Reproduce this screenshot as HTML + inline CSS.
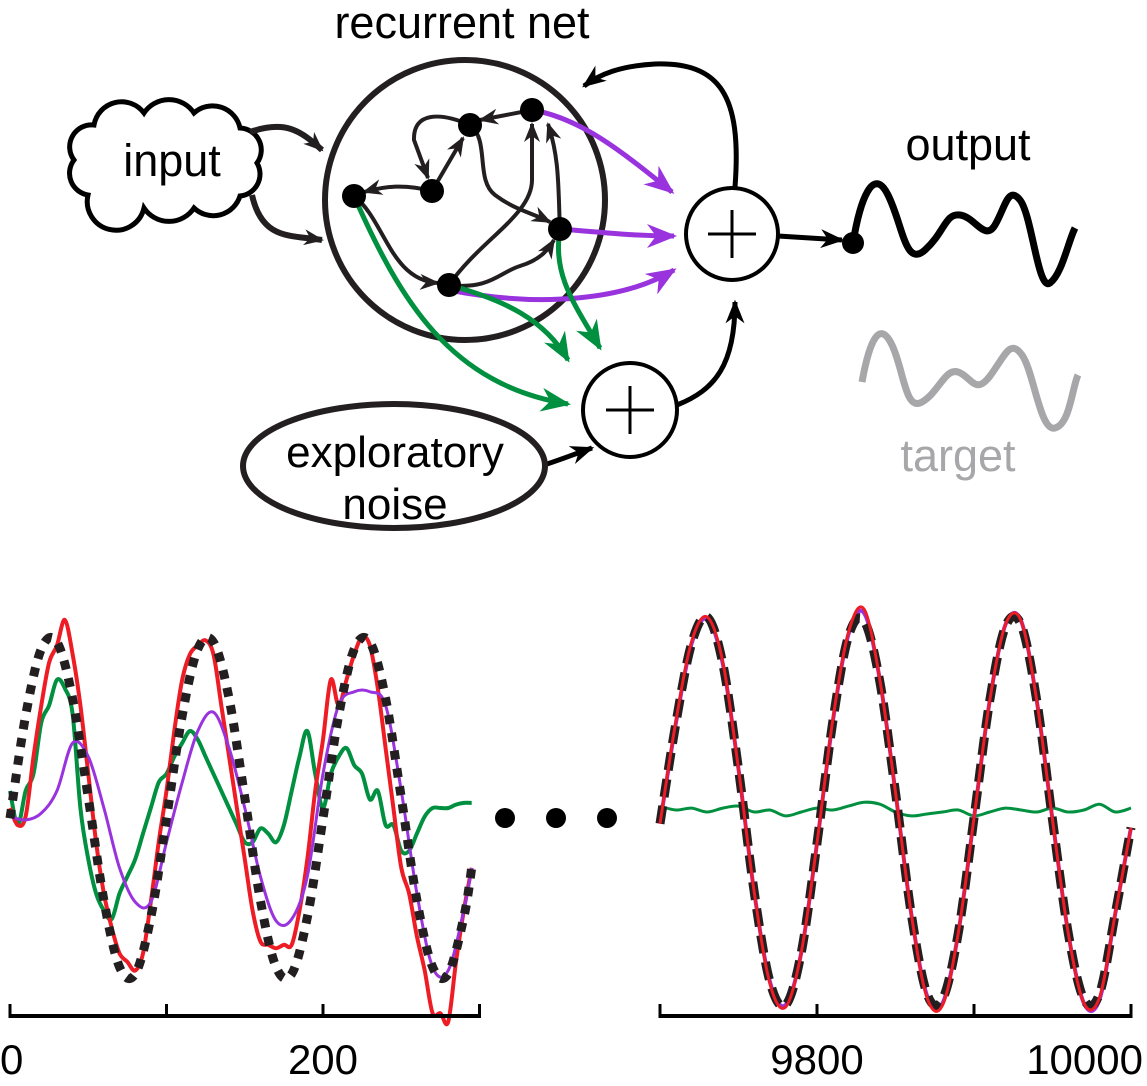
<!DOCTYPE html>
<html><head><meta charset="utf-8"><style>
html,body{margin:0;padding:0;background:#fff;}
svg{display:block;font-family:"Liberation Sans",Helvetica,Arial,sans-serif;}
</style></head><body>
<svg id="fig" width="1147" height="1086" viewBox="0 0 1147 1086" xmlns="http://www.w3.org/2000/svg">
<defs>
<marker id="ab" viewBox="0 0 20 16" refX="18" refY="8" markerWidth="20" markerHeight="16" markerUnits="userSpaceOnUse" orient="auto"><path d="M0,0 L20,8 L0,16 L6,8 z" fill="#231f20"/></marker>
<marker id="abb" viewBox="0 0 20 16" refX="18" refY="8" markerWidth="24" markerHeight="19" markerUnits="userSpaceOnUse" orient="auto"><path d="M0,0 L20,8 L0,16 L6,8 z" fill="#000"/></marker>
<marker id="ap" viewBox="0 0 20 16" refX="18" refY="8" markerWidth="30" markerHeight="24" markerUnits="userSpaceOnUse" orient="auto"><path d="M0,0 L20,8 L0,16 L6,8 z" fill="#9933dd"/></marker>
<marker id="ag" viewBox="0 0 20 16" refX="18" refY="8" markerWidth="30" markerHeight="24" markerUnits="userSpaceOnUse" orient="auto"><path d="M0,0 L20,8 L0,16 L6,8 z" fill="#009040"/></marker>
</defs>

<g>
<text x="462" y="38" font-size="45" text-anchor="middle">recurrent net</text>
<circle cx="465" cy="200" r="140" fill="none" stroke="#231f20" stroke-width="6"/>

<path d="M88,195 a22,22 0 0 1 -14,-35 a22,22 0 0 1 20,-35 a28,28 0 0 1 50,-12 a30,30 0 0 1 50,0 a28,28 0 0 1 46,15 a22,22 0 0 1 17,35 a22,22 0 0 1 -17,33 a28,28 0 0 1 -46,12 a30,30 0 0 1 -50,0 a28,28 0 0 1 -56,-13 z" fill="#fff" stroke="#000" stroke-width="5"/>
<text x="172" y="176" font-size="45" text-anchor="middle">input</text>

<g fill="none" stroke="#231f20" stroke-width="6">
<path d="M250,132 C285,120 300,130 322,150" marker-end="url(#ab)"/>
<path d="M252,195 C262,240 290,235 322,240" marker-end="url(#ab)"/>
</g>

<g fill="none" stroke="#231f20" stroke-width="4">
<path d="M532,110 L480,120" marker-end="url(#ab)"/>
<path d="M470,125 C440,112 413,112 414,140 L428,178" marker-end="url(#ab)"/>
<path d="M432,191 L463,138" marker-end="url(#ab)"/>
<path d="M432,191 C405,184 385,186 364,192" marker-end="url(#ab)"/>
<path d="M354,196 C385,220 390,280 438,283" marker-end="url(#ab)"/>
<path d="M449,285 C490,290 500,272 520,266 S548,250 554,240" marker-end="url(#ab)"/>
<path d="M449,285 C480,240 532,215 532,180 L532,124" marker-end="url(#ab)"/>
<path d="M470,125 C490,140 475,180 495,195 S530,212 550,222" marker-end="url(#ab)"/>
<path d="M560,229 C558,190 560,160 548,124" marker-end="url(#ab)"/>
</g>

<g fill="none" stroke="#9933dd" stroke-width="5">
<path d="M532,110 C580,118 620,150 672,192" marker-end="url(#ap)"/>
<path d="M560,229 C600,232 630,236 674,236" marker-end="url(#ap)"/>
<path d="M449,290 C540,308 625,300 674,270" marker-end="url(#ap)"/>
</g>
<g fill="none" stroke="#009040" stroke-width="5">
<path d="M354,196 C400,300 450,385 568,404" marker-end="url(#ag)"/>
<path d="M449,285 C505,300 545,320 568,360" marker-end="url(#ag)"/>
<path d="M560,229 C552,275 575,305 600,348" marker-end="url(#ag)"/>
</g>

<g fill="#000">
<circle cx="354" cy="196" r="12"/><circle cx="432" cy="191" r="12"/><circle cx="470" cy="125" r="12"/>
<circle cx="532" cy="110" r="12"/><circle cx="560" cy="229" r="12"/><circle cx="449" cy="285" r="12"/>
</g>

<g fill="none" stroke="#000" stroke-width="5">
<path d="M735,187 C742,95 720,62 655,64 C620,66 600,74 584,86" marker-end="url(#abb)"/>
<path d="M778,236 L842,240" marker-end="url(#abb)"/>
<path d="M677,405 C715,390 735,365 735,302" marker-end="url(#abb)"/>
<path d="M538,467 C560,460 572,455 592,448" marker-end="url(#abb)"/>
</g>

<g>
<circle cx="732" cy="234" r="46" fill="#fff" stroke="#000" stroke-width="4"/>
<path d="M708,234 H756 M732,210 V258" stroke="#000" stroke-width="3"/>
</g>
<g>
<circle cx="630" cy="410" r="47" fill="#fff" stroke="#000" stroke-width="4"/>
<path d="M606,410 H654 M630,386 V434" stroke="#000" stroke-width="3"/>
</g>

<ellipse cx="394" cy="466" rx="151" ry="62" fill="#fff" stroke="#231f20" stroke-width="6"/>
<text x="395" y="467" font-size="44" text-anchor="middle">exploratory</text>
<text x="395" y="519" font-size="44" text-anchor="middle">noise</text>

<text x="968" y="160" font-size="45" text-anchor="middle">output</text>
<circle cx="853" cy="243" r="11" fill="#000"/>
<path d="M853,243 C860,200 873,165 888,195 S905,268 925,250 S945,213 960,215 S985,242 995,225 S1008,185 1020,200 S1038,292 1050,283 S1068,242 1075,228" fill="none" stroke="#000" stroke-width="7"/>
<path d="M862,382 C870,338 880,320 892,345 S905,412 922,402 S945,368 958,372 S975,396 990,376 S1010,338 1022,355 S1040,432 1055,428 S1072,388 1078,375" fill="none" stroke="#a7a7aa" stroke-width="7"/>
<text x="958" y="471" font-size="45" text-anchor="middle" fill="#a7a7aa">target</text>
</g>

<g fill="#000">
<circle cx="505" cy="818" r="10"/><circle cx="556" cy="818" r="10"/><circle cx="607" cy="818" r="10"/>
</g>
<g id="charts"></g>
</svg>
<script>
// Left chart (early training)
const leftTimesCoarse = [0,10,20,30,40,50,60,70,80,90,100,110,120,130,140,150,160,170,180,190,200,210,220,230,240,250,260,270,280,290,295];
const leftTarget = [-0.06,0.54,0.93,0.97,0.64,0.06,-0.54,-0.93,-0.97,-0.64,-0.06,0.54,0.93,0.97,0.64,0.06,-0.54,-0.93,-0.97,-0.64,-0.06,0.54,0.93,0.97,0.64,0.06,-0.54,-0.93,-0.97,-0.64,-0.35];
const leftPurple = [-0.05,-0.07,-0.03,0.1,0.38,0.3,0.0,-0.35,-0.55,-0.55,-0.2,0.15,0.45,0.56,0.35,0.0,-0.4,-0.66,-0.65,-0.4,0.2,0.6,0.68,0.68,0.6,0.1,-0.5,-0.93,-0.95,-0.6,-0.35];
const leftTimesFine = [0,5,10,15,20,25,30,35,40,45,50,55,60,65,70,75,80,85,90,95,100,105,110,115,120,125,130,135,140,145,150,155,160,165,170,175,180,185,190,195,200,205,210,215,220,225,230,235,240,245,250,255,260,265,270,275,280,285,290,295];
const leftRed = [0.0,-0.1,-0.05,0.3,0.6,0.85,0.95,1.1,0.9,0.6,0.2,-0.2,-0.5,-0.7,-0.85,-0.9,-0.95,-0.85,-0.55,-0.2,0.1,0.45,0.75,0.9,0.95,0.98,0.9,0.6,0.3,0.0,-0.3,-0.6,-0.78,-0.8,-0.82,-0.8,-0.8,-0.6,-0.3,0.1,0.4,0.75,0.6,0.75,0.9,1.0,0.95,0.7,0.35,0.0,-0.35,-0.5,-0.75,-0.95,-1.2,-1.2,-1.25,-0.9,-0.6,-0.35];
const leftGreen = [0.1,-0.1,0.1,0.2,0.5,0.6,0.75,0.7,0.55,0.0,-0.3,-0.5,-0.6,-0.65,-0.5,-0.4,-0.3,-0.15,0.0,0.15,0.2,0.3,0.38,0.45,0.4,0.3,0.2,0.1,0.0,-0.1,-0.2,-0.2,-0.12,-0.15,-0.2,-0.1,0.1,0.3,0.45,0.2,0.0,0.2,0.3,0.35,0.25,0.2,0.05,0.1,-0.1,-0.1,-0.25,-0.25,-0.15,-0.05,0.0,0.0,0.0,0.02,0.03,0.03];
const leftTicks = [0,100,200,300];
const leftTickLabels = ["0","","200",""];
// Right chart (late training)
const rightTimes = [9700,9710,9720,9730,9740,9750,9760,9770,9780,9790,9800,9810,9820,9830,9840,9850,9860,9870,9880,9890,9900,9910,9920,9930,9940,9950,9960,9970,9980,9990,10000];
const rightTarget = [-0.06,0.45,0.86,1.0,0.76,0.22,-0.41,-0.87,-0.99,-0.72,-0.16,0.46,0.9,0.98,0.67,0.1,-0.52,-0.93,-0.96,-0.62,-0.03,0.57,0.95,0.96,0.57,-0.04,-0.62,-0.96,-0.93,-0.52,-0.08];
const rightRed = [-0.06,0.46,0.87,1.0,0.77,0.22,-0.41,-0.88,-1.0,-0.72,-0.16,0.47,0.92,1.04,0.68,0.1,-0.52,-0.95,-0.99,-0.62,-0.03,0.57,0.96,0.98,0.57,-0.04,-0.62,-0.98,-0.95,-0.52,-0.08];
const rightPurple = [-0.06,0.45,0.86,0.99,0.76,0.22,-0.41,-0.87,-0.99,-0.72,-0.16,0.46,0.91,1.02,0.68,0.1,-0.52,-0.94,-0.98,-0.62,-0.03,0.57,0.96,0.98,0.57,-0.04,-0.62,-0.98,-0.96,-0.52,-0.08];
const rightGreen = [0.03,0.01,0.02,0.0,0.02,0.03,0.0,0.01,-0.02,0.0,0.02,0.01,0.03,0.05,0.04,0.0,-0.02,-0.01,0.0,0.01,-0.02,0.0,0.02,0.01,0.0,0.02,0.0,0.01,0.04,0.0,0.02];
const rightTicks = [9700,9800,9900,10000];
const rightTickLabels = ["","9800","","10000"];

const NS = "http://www.w3.org/2000/svg";
const root = document.getElementById('charts');
function mk(tag, attrs){const e=document.createElementNS(NS,tag);for(const k in attrs)e.setAttribute(k,attrs[k]);return e;}
function smoothPath(xs, ys){
  let d = "M"+xs[0].toFixed(1)+","+ys[0].toFixed(1);
  for(let i=0;i<xs.length-1;i++){
    const x0=xs[Math.max(i-1,0)],y0=ys[Math.max(i-1,0)],x1=xs[i],y1=ys[i],x2=xs[i+1],y2=ys[i+1],x3=xs[Math.min(i+2,xs.length-1)],y3=ys[Math.min(i+2,ys.length-1)];
    d+=" C"+(x1+(x2-x0)/6).toFixed(1)+","+(y1+(y2-y0)/6).toFixed(1)+" "+(x2-(x3-x1)/6).toFixed(1)+","+(y2-(y3-y1)/6).toFixed(1)+" "+x2.toFixed(1)+","+y2.toFixed(1);
  }
  return d;
}
function chart(name, cfg){
  const g = mk('g',{});
  
  
  root.appendChild(g);
  const sx = t => cfg.x0 + (t - cfg.t0) * cfg.kx;
  const sy = v => cfg.yc - v * cfg.ky;
  cfg.series.forEach(s=>{
    const p = mk('path',{d:smoothPath(s.t.map(sx), s.v.map(sy)), fill:'none', stroke:s.color, 'stroke-width':s.w});
    if(s.dash) p.setAttribute('stroke-dasharray', s.dash);
    
    
    g.appendChild(p);
  });
  const ax = mk('line',{x1:sx(cfg.ticks[0]),x2:sx(cfg.ticks[cfg.ticks.length-1]),y1:1016,y2:1016,stroke:'#000','stroke-width':4});
  
  
  g.appendChild(ax);
  cfg.ticks.forEach((t,i)=>{
    const tk = mk('line',{x1:sx(t),x2:sx(t),y1:1004,y2:1018,stroke:'#000','stroke-width':3});
    
    
    g.appendChild(tk);
    if(cfg.labels[i]){
      const isLast = i === cfg.ticks.length-1;
      const isFirst = i === 0;
      const tx = mk('text',{x:isLast?1143:(isFirst?0:sx(t)),y:1074,'font-size':42,'text-anchor':isLast?'end':(isFirst?'start':'middle')});
      tx.textContent = cfg.labels[i];
      
      
      g.appendChild(tx);
    }
  });
}
chart('early-training-chart',{t0:0,x0:10,kx:1.565,yc:808,ky:171,ticks:leftTicks,labels:leftTickLabels,series:[
  {name:'left-green-series',t:leftTimesFine,v:leftGreen,color:'#009040',w:4},
  {name:'left-red-series',t:leftTimesFine,v:leftRed,color:'#ee1c25',w:4},
  {name:'left-purple-series',t:leftTimesCoarse,v:leftPurple,color:'#9933dd',w:3},
  {name:'left-target-dashed',t:leftTimesCoarse,v:leftTarget,color:'#231f20',w:9,dash:'9 9'}
]});
chart('late-training-chart',{t0:9700,x0:660,kx:1.57,yc:812,ky:195,ticks:rightTicks,labels:rightTickLabels,series:[
  {name:'right-green-series',t:rightTimes,v:rightGreen,color:'#009040',w:3},
  {name:'right-purple-series',t:rightTimes,v:rightPurple,color:'#9933dd',w:4},
  {name:'right-target-dashed',t:rightTimes,v:rightTarget,color:'#231f20',w:9,dash:'18 9'},
  {name:'right-red-series',t:rightTimes,v:rightRed,color:'#ee1c25',w:3}
]});
</script>
</body></html>
